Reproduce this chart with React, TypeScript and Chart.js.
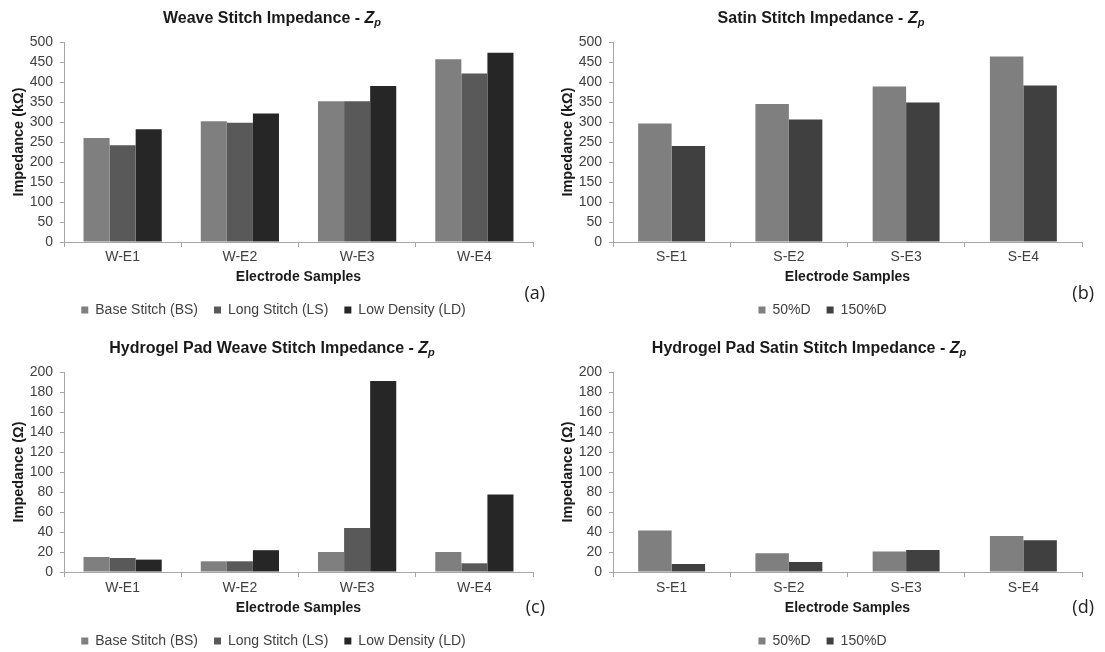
import React, { useEffect, useRef } from "react";
import { Chart, registerables } from "chart.js";

Chart.register(...registerables);

// ---------- data ----------
const weaveCategories = ["W-E1", "W-E2", "W-E3", "W-E4"];
const satinCategories = ["S-E1", "S-E2", "S-E3", "S-E4"];

const weaveSeriesNames = ["Base Stitch (BS)", "Long Stitch (LS)", "Low Density (LD)"];
const satinSeriesNames = ["50%D", "150%D"];

// (a) Weave stitch impedance, kΩ
const weaveBS = [260, 302, 352, 457];
const weaveLS = [242, 298, 352, 421];
const weaveLD = [282, 321, 390, 473];

// (b) Satin stitch impedance, kΩ
const satin50 = [296, 345, 389, 464];
const satin150 = [240, 306, 349, 391];

// (c) Hydrogel pad weave stitch impedance, Ω
const gelWeaveBS = [15, 10.7, 20, 20];
const gelWeaveLS = [14, 10.7, 44, 8.7];
const gelWeaveLD = [12.4, 21.8, 191, 77.5];

// (d) Hydrogel pad satin stitch impedance, Ω
const gelSatin50 = [41.4, 18.7, 20.4, 36];
const gelSatin150 = [8, 10, 22, 31.7];

const kOhmTicks = { max: 500, step: 50 };
const ohmTicks = { max: 200, step: 20 };

const weaveColors = ["#7f7f7f", "#595959", "#262626"];
const satinColors = ["#7f7f7f", "#404040"];

const FONT = '"Liberation Sans", Arial, sans-serif';
const TEXT = "#404040";
const AXIS = "#a6a6a6";

const titlePlugin = {
  id: "customTitle",
  afterLayout(chart: any, _args: any, opts: any) {
    if (chart.legend) {
      chart.legend.left += opts.legendShift;
      chart.legend.right += opts.legendShift;
    }
  },
  afterDraw(chart: any, _args: any, opts: any) {
    const ctx = chart.ctx;
    ctx.save();
    ctx.fillStyle = "#1a1a1a";
    ctx.textBaseline = "alphabetic";
    ctx.textAlign = "left";
    const size = opts.size;
    const fMain = `bold ${size}px ${FONT}`;
    const fZ = `italic bold ${size}px ${FONT}`;
    const fSub = `italic bold ${Math.round(size * 0.66)}px ${FONT}`;
    ctx.font = fMain;
    const w1 = ctx.measureText(opts.text).width;
    ctx.font = fZ;
    const w2 = ctx.measureText("Z").width;
    ctx.font = fSub;
    const w3 = ctx.measureText("p").width;
    const total = w1 + w2 + w3;
    let x = opts.x - total / 2;
    const y = opts.y;
    ctx.font = fMain;
    ctx.fillText(opts.text, x, y);
    x += w1;
    ctx.font = fZ;
    ctx.fillText("Z", x, y);
    x += w2;
    ctx.font = fSub;
    ctx.fillText("p", x, y + 3);
    // panel label
    ctx.font = `18px "Open Sans", ${FONT}`;
    ctx.fillStyle = "#222222";
    ctx.textAlign = "right";
    ctx.textBaseline = "middle";
    ctx.fillText(opts.label, opts.labelX, opts.labelY);
    ctx.restore();
  },
};

type PanelProps = {
  left: number;
  top: number;
  titleText: string;
  titleX: number;
  categories: string[];
  names: string[];
  values: number[][];
  colors: string[];
  yMax: number;
  yStep: number;
  yTitle: string;
  label: string;
  labelY: number;
  catPct: number;
  padBottom: number;
  xHeight: number;
  xTickPad: number;
};

function Panel(p: PanelProps) {
  const ref = useRef<HTMLCanvasElement>(null);
  useEffect(() => {
    if (!ref.current) return;
    const chart = new Chart(ref.current, {
      type: "bar",
      data: {
        labels: p.categories,
        datasets: p.names.map((n, i) => ({
          label: n,
          data: p.values[i],
          backgroundColor: p.colors[i],
          borderWidth: 0,
          barPercentage: 1,
          categoryPercentage: p.catPct,
        })),
      },
      options: {
        responsive: false,
        animation: false,
        devicePixelRatio: 1,
        layout: { padding: { top: 42, left: 0, right: 19, bottom: p.padBottom } },
        plugins: {
          legend: {
            position: "bottom",
            labels: {
              boxWidth: 7,
              boxHeight: 7,
              padding: 16,
              color: TEXT,
              font: { family: FONT, size: 14 },
            },
          },
          tooltip: { enabled: false },
          customTitle: {
            text: p.titleText,
            x: p.titleX,
            y: 23,
            size: 16,
            label: p.label,
            labelX: 545,
            labelY: p.labelY,
            legendShift: 7,
          },
        } as any,
        scales: {
          x: {
            offset: true,
            grid: {
              offset: true,
              drawOnChartArea: false,
              drawTicks: true,
              tickLength: 5,
              color: AXIS,
            },
            border: { display: true, color: AXIS, width: 1 },
            ticks: {
              color: TEXT,
              font: { family: FONT, size: 14 },
              padding: p.xTickPad,
              autoSkip: false,
              maxRotation: 0,
            },
            title: {
              display: true,
              text: "Electrode Samples",
              color: "#1a1a1a",
              font: { family: FONT, size: 14, weight: "bold", lineHeight: 1 },
              padding: { top: 0, bottom: 3 },
            },
            afterFit: (s: any) => {
              s.height = p.xHeight;
            },
          },
          y: {
            min: 0,
            max: p.yMax,
            grid: {
              drawOnChartArea: false,
              drawTicks: true,
              tickLength: 4,
              color: AXIS,
            },
            border: { display: true, color: AXIS, width: 1 },
            ticks: {
              stepSize: p.yStep,
              color: TEXT,
              font: { family: FONT, size: 14 },
              padding: 7,
              autoSkip: false,
            },
            title: {
              display: true,
              text: p.yTitle,
              color: "#1a1a1a",
              font: { family: FONT, size: 14.5, weight: "bold" },
              padding: { top: 10, bottom: 0 },
            },
            afterFit: (s: any) => {
              s.width = 64;
            },
          },
        },
      },
      plugins: [titlePlugin],
    });
    return () => chart.destroy();
  }, []);
  return (
    <canvas
      ref={ref}
      width={552}
      height={326}
      style={{ position: "absolute", left: p.left, top: p.top, width: 552, height: 326 }}
    />
  );
}

export default function App() {
  return (
    <div
      style={{
        position: "absolute",
        left: 0,
        top: 0,
        width: 1105,
        height: 652,
        overflow: "hidden",
        background: "#ffffff",
      }}
    >
      <Panel
        left={0}
        top={0}
        titleText="Weave Stitch Impedance - "
        titleX={272}
        categories={weaveCategories}
        names={weaveSeriesNames}
        values={[weaveBS, weaveLS, weaveLD]}
        colors={weaveColors}
        yMax={kOhmTicks.max}
        yStep={kOhmTicks.step}
        yTitle="Impedance (kΩ)"
        label="(a)"
        labelY={294}
        catPct={0.667}
        padBottom={-1}
        xHeight={45}
        xTickPad={2}
      />
      <Panel
        left={549}
        top={0}
        titleText="Satin Stitch Impedance - "
        titleX={272}
        categories={satinCategories}
        names={satinSeriesNames}
        values={[satin50, satin150]}
        colors={satinColors}
        yMax={kOhmTicks.max}
        yStep={kOhmTicks.step}
        yTitle="Impedance (kΩ)"
        label="(b)"
        labelY={294}
        catPct={0.571}
        padBottom={-1}
        xHeight={45}
        xTickPad={2}
      />
      <Panel
        left={0}
        top={330}
        titleText="Hydrogel Pad Weave Stitch Impedance - "
        titleX={272}
        categories={weaveCategories}
        names={weaveSeriesNames}
        values={[gelWeaveBS, gelWeaveLS, gelWeaveLD]}
        colors={weaveColors}
        yMax={ohmTicks.max}
        yStep={ohmTicks.step}
        yTitle="Impedance (Ω)"
        label="(c)"
        labelY={278}
        catPct={0.667}
        padBottom={-2}
        xHeight={46}
        xTickPad={3}
      />
      <Panel
        left={549}
        top={330}
        titleText="Hydrogel Pad Satin Stitch Impedance - "
        titleX={260}
        categories={satinCategories}
        names={satinSeriesNames}
        values={[gelSatin50, gelSatin150]}
        colors={satinColors}
        yMax={ohmTicks.max}
        yStep={ohmTicks.step}
        yTitle="Impedance (Ω)"
        label="(d)"
        labelY={278}
        catPct={0.571}
        padBottom={-2}
        xHeight={46}
        xTickPad={3}
      />
    </div>
  );
}
